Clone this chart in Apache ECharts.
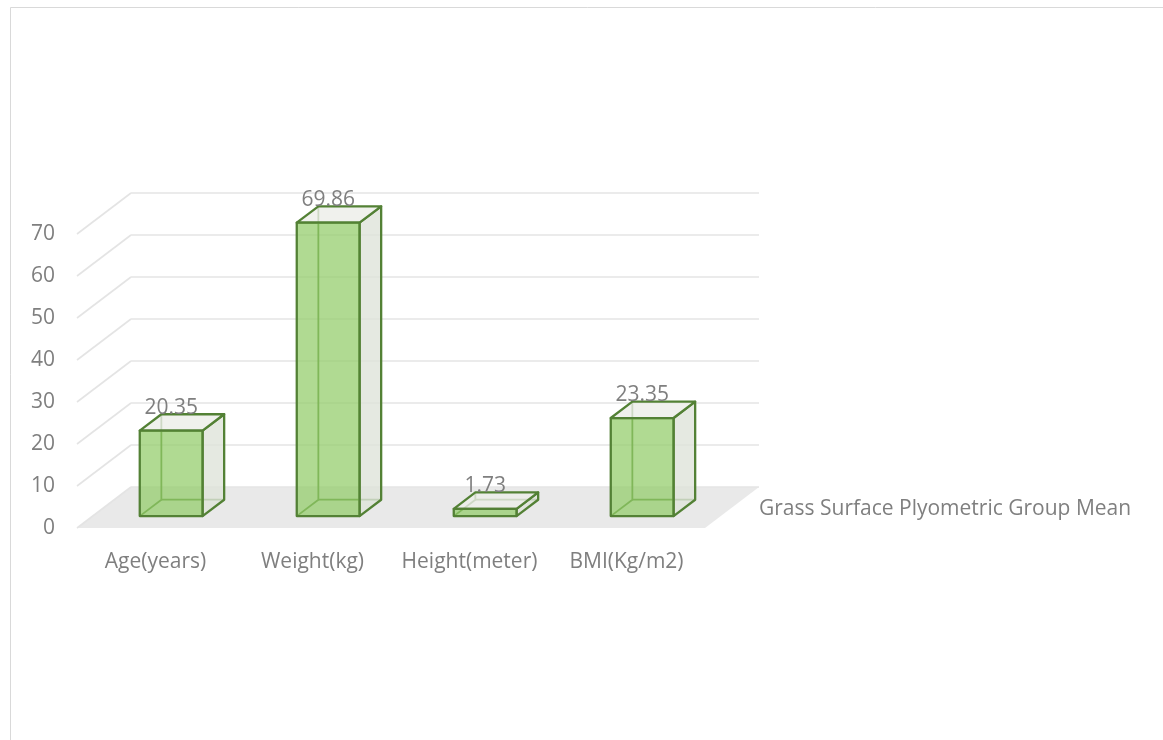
<!DOCTYPE html>
<html>
<head>
<meta charset="utf-8">
<script src="https://cdn.jsdelivr.net/npm/echarts@6/dist/echarts.min.js"></script>
<style>html,body{margin:0;padding:0;background:#fff}#c{width:1163px;height:740px}</style>
</head>
<body>
<div id="c"></div>
<script>
const categories = ['Age(years)', 'Weight(kg)', 'Height(meter)', 'BMI(Kg/m2)'];
const values = [20.35, 69.86, 1.73, 23.35];
const valueLabels = ['20.35', '69.86', '1.73', '23.35'];
const seriesName = 'Grass Surface Plyometric Group Mean';
const yTicks = [0, 10, 20, 30, 40, 50, 60, 70];

const FONT = '"Open Sans", sans-serif';
const FS = 21;
const TXT = '#7f7f7f';
const DX = 54, DY = -41;          // depth vector of the 3D box
const F0 = 0.29, F1 = 0.69;       // bar depth range (fraction of depth)
const BAR = 0.40;                 // bar width fraction of band
const EDGE = '#538135';

const chart = echarts.init(document.getElementById('c'));

function gridItem(params, api) {
  const cs = params.coordSys;
  const v = api.value(0);
  const y = api.coord([0, v])[1];
  const x0 = cs.x, x1 = cs.x + cs.width;
  const style = { stroke: '#e4e4e4', lineWidth: 1.6 };
  return {
    type: 'group',
    children: [
      { type: 'line', shape: { x1: x0 + DX, y1: y + DY, x2: x1 + DX, y2: y + DY }, style },
      { type: 'line', shape: { x1: x0, y1: y, x2: x0 + DX, y2: y + DY }, style }
    ]
  };
}

function floorItem(params, api) {
  const cs = params.coordSys;
  const y = api.coord([0, 0])[1];
  const x0 = cs.x, x1 = cs.x + cs.width;
  return {
    type: 'polygon',
    shape: { points: [[x0, y], [x1, y], [x1 + DX, y + DY], [x0 + DX, y + DY]] },
    style: { fill: '#e9e9e9' }
  };
}

function barItem(params, api) {
  const i = api.value(0), v = api.value(1);
  const base = api.coord([i, 0]);
  const top = api.coord([i, v]);
  const bw = api.size([1, 0])[0] * BAR;
  const cx = base[0];
  const fx = DX * F0, fy = DY * F0, bx = DX * F1, by = DY * F1;
  const xl = cx - bw / 2, xr = cx + bw / 2;
  const yb = base[1], yt = top[1];
  const fbl = [xl + fx, yb + fy], fbr = [xr + fx, yb + fy], ftr = [xr + fx, yt + fy], ftl = [xl + fx, yt + fy];
  const bbl = [xl + bx, yb + by], bbr = [xr + bx, yb + by], btr = [xr + bx, yt + by], btl = [xl + bx, yt + by];
  const hid = { stroke: EDGE, lineWidth: 1.8, fill: null };
  const ed = { stroke: EDGE, lineWidth: 2.3, lineJoin: 'round' };
  return {
    type: 'group',
    children: [
      { type: 'polyline', shape: { points: [fbl, bbl, btl] }, style: hid },
      { type: 'line', shape: { x1: bbl[0], y1: bbl[1], x2: bbr[0], y2: bbr[1] }, style: hid },
      { type: 'polygon', shape: { points: [fbr, bbr, btr, ftr] }, style: Object.assign({ fill: 'rgba(222,227,218,0.8)' }, ed) },
      { type: 'polygon', shape: { points: [ftl, ftr, btr, btl] }, style: Object.assign({ fill: 'rgba(236,238,233,0.8)' }, ed) },
      { type: 'polygon', shape: { points: [fbl, fbr, ftr, ftl] }, style: Object.assign({ fill: 'rgba(146,204,104,0.72)' }, ed) },
      { type: 'text', x: cx + fx, y: yt + fy - 23,
        style: { text: valueLabels[i], fill: TXT, font: FS + 'px ' + FONT, align: 'center', verticalAlign: 'middle' } }
    ]
  };
}

chart.setOption({
  animation: false,
  backgroundColor: '#fff',
  grid: { left: 77, right: 458, top: 234, bottom: 212 },
  xAxis: {
    type: 'category', data: categories,
    axisLine: { show: false }, axisTick: { show: false }, splitLine: { show: false },
    axisLabel: { color: TXT, fontFamily: FONT, fontSize: FS, margin: 24, interval: 0 }
  },
  yAxis: {
    type: 'value', min: 0, max: 70, interval: 10,
    axisLine: { show: false }, axisTick: { show: false }, splitLine: { show: false },
    axisLabel: { color: TXT, fontFamily: FONT, fontSize: FS, margin: 22, padding: [5, 0, 0, 0] }
  },
  graphic: [
    { type: 'rect', shape: { x: 10.5, y: 7.5, width: 1300, height: 900 },
      style: { fill: null, stroke: '#d9d9d9', lineWidth: 1 }, silent: true, z: -10 },
    { type: 'text', left: 759, top: 499,
      style: { text: seriesName, fill: TXT, font: FS + 'px ' + FONT } }
  ],
  series: [
    { type: 'custom', name: 'floor', clip: false, z: 1, data: [[0]], renderItem: floorItem },
    { type: 'custom', name: 'grid', clip: false, z: 2, data: yTicks.map(t => [t]), renderItem: gridItem },
    { type: 'custom', name: seriesName, clip: false, z: 3,
      data: values.map((v, i) => [i, v]), renderItem: barItem }
  ]
});
</script>
</body>
</html>
